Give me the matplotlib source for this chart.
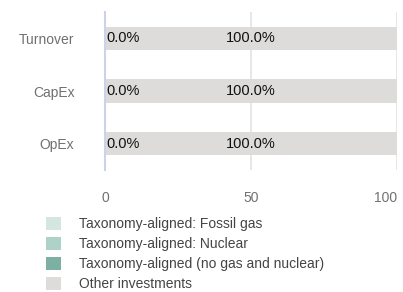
import matplotlib.pyplot as plt
import numpy as np

categories = ["Turnover", "CapEx", "OpEx"]
series_names = ["Taxonomy-aligned: Fossil gas", "Taxonomy-aligned: Nuclear",
                "Taxonomy-aligned (no gas and nuclear)", "Other investments"]
fossil_gas = [0.0, 0.0, 0.0]
nuclear = [0.0, 0.0, 0.0]
aligned = [0.0, 0.0, 0.0]
other = [100.0, 100.0, 100.0]
colors = ["#d5e6e1", "#aed1c8", "#7bb0a3", "#dddcda"]

plt.rcParams['font.family'] = ['Liberation Sans', 'DejaVu Sans']

fig = plt.figure(figsize=(4.03, 2.92), dpi=100)
ax = fig.add_axes([105 / 403, 1 - 170 / 292, 292 / 403, 158 / 292])

y = np.arange(len(categories))
left = np.zeros(len(categories))
handles = []
for vals, name, c in zip([fossil_gas, nuclear, aligned, other], series_names, colors):
    h = ax.barh(y, vals, left=left, height=0.44, color=c, label=name, zorder=2)
    handles.append(h)
    left = left + np.array(vals)

# value labels
for i in range(len(categories)):
    ax.text(0.3, y[i], f"{aligned[i]:.1f}%", va="center", ha="left",
            fontsize=10.5, color="#111111", zorder=3)
    ax.text(aligned[i] + other[i] / 2, y[i], f"{other[i]:.1f}%", va="center",
            ha="center", fontsize=10.5, color="#111111", zorder=3)

ax.set_xlim(0, 100)
ax.set_ylim(2.5, -0.5)
ax.set_yticks(y)
ax.set_yticklabels(categories, fontsize=10, color="#707070")
ax.set_xticks([0, 50, 100])
ax.set_xticklabels(["0", "50", "100"], fontsize=10, color="#707070")
ax.get_xticklabels()[-1].set_ha("right")
ax.tick_params(axis="both", length=0)
ax.tick_params(axis="x", pad=15)
ax.tick_params(axis="y", pad=22)

for s in ["top", "right", "bottom"]:
    ax.spines[s].set_visible(False)
ax.spines["left"].set_color("#c9d3ea")
ax.spines["left"].set_linewidth(1.5)
ax.spines["left"].set_zorder(4)
ax.grid(axis="x", color="#e3e3e3", linewidth=1.2, zorder=0)
ax.set_axisbelow(True)

fig.legend(handles=handles, labels=series_names, loc="upper left",
           bbox_to_anchor=(39 / 403, 1 - 210 / 292), frameon=False,
           fontsize=10, handlelength=1.1, handleheight=1.1,
           handletextpad=1.25, labelspacing=0.4, labelcolor="#444444",
           borderpad=0)

fig.savefig("out.png", dpi=100)
